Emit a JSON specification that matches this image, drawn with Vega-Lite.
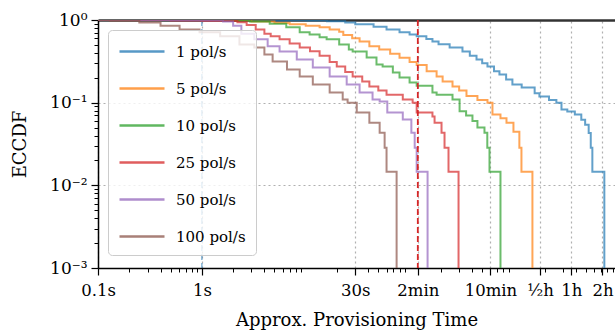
{
  "$schema": "https://vega.github.io/schema/vega-lite/v6.json",
  "width": 517,
  "height": 248,
  "autosize": {"type": "none"},
  "padding": {"left": 98, "top": 20, "right": 0, "bottom": 68},
  "config": {
    "font": "DejaVu Serif",
    "view": {"stroke": null},
    "axis": {"labelFont": "DejaVu Serif", "titleFont": "DejaVu Serif", "labelColor": "#000", "titleColor": "#000", "titleFontWeight": "normal"},
    "legend": {"labelFont": "DejaVu Serif", "labelColor": "#000"}
  },
  "datasets": {
    "curves": [
      {"t": 0.1, "v": 1, "rate": "1 pol/s"}, {"t": 5, "v": 0.995, "rate": "1 pol/s"}, {"t": 10, "v": 0.985, "rate": "1 pol/s"}, {"t": 16, "v": 0.964, "rate": "1 pol/s"}, {"t": 24, "v": 0.93, "rate": "1 pol/s"}, {"t": 30, "v": 0.89, "rate": "1 pol/s"}, {"t": 45, "v": 0.83, "rate": "1 pol/s"}, {"t": 60, "v": 0.77, "rate": "1 pol/s"}, {"t": 80, "v": 0.71, "rate": "1 pol/s"}, {"t": 100, "v": 0.67, "rate": "1 pol/s"}, {"t": 117, "v": 0.634, "rate": "1 pol/s"}, {"t": 145, "v": 0.59, "rate": "1 pol/s"}, {"t": 166, "v": 0.55, "rate": "1 pol/s"}, {"t": 190, "v": 0.51, "rate": "1 pol/s"}, {"t": 243, "v": 0.466, "rate": "1 pol/s"}, {"t": 323, "v": 0.416, "rate": "1 pol/s"}, {"t": 380, "v": 0.37, "rate": "1 pol/s"}, {"t": 441, "v": 0.333, "rate": "1 pol/s"}, {"t": 500, "v": 0.3, "rate": "1 pol/s"}, {"t": 562, "v": 0.273, "rate": "1 pol/s"}, {"t": 650, "v": 0.24, "rate": "1 pol/s"}, {"t": 733, "v": 0.219, "rate": "1 pol/s"}, {"t": 850, "v": 0.19, "rate": "1 pol/s"}, {"t": 977, "v": 0.166, "rate": "1 pol/s"}, {"t": 1200, "v": 0.153, "rate": "1 pol/s"}, {"t": 1600, "v": 0.13, "rate": "1 pol/s"}, {"t": 1778, "v": 0.119, "rate": "1 pol/s"}, {"t": 2200, "v": 0.108, "rate": "1 pol/s"}, {"t": 2590, "v": 0.1, "rate": "1 pol/s"}, {"t": 2900, "v": 0.0825, "rate": "1 pol/s"}, {"t": 3300, "v": 0.078, "rate": "1 pol/s"}, {"t": 3900, "v": 0.0717, "rate": "1 pol/s"}, {"t": 4500, "v": 0.062, "rate": "1 pol/s"}, {"t": 4900, "v": 0.054, "rate": "1 pol/s"}, {"t": 5300, "v": 0.043, "rate": "1 pol/s"}, {"t": 5550, "v": 0.0285, "rate": "1 pol/s"}, {"t": 5750, "v": 0.0146, "rate": "1 pol/s"}, {"t": 7500, "v": 0.0005, "rate": "1 pol/s"},

      {"t": 0.1, "v": 1, "rate": "5 pol/s"}, {"t": 1, "v": 0.99, "rate": "5 pol/s"}, {"t": 3, "v": 0.96, "rate": "5 pol/s"}, {"t": 5, "v": 0.92, "rate": "5 pol/s"}, {"t": 7, "v": 0.887, "rate": "5 pol/s"}, {"t": 10, "v": 0.85, "rate": "5 pol/s"}, {"t": 13.6, "v": 0.815, "rate": "5 pol/s"}, {"t": 17, "v": 0.77, "rate": "5 pol/s"}, {"t": 21, "v": 0.72, "rate": "5 pol/s"}, {"t": 23, "v": 0.66, "rate": "5 pol/s"}, {"t": 28, "v": 0.6, "rate": "5 pol/s"}, {"t": 33, "v": 0.55, "rate": "5 pol/s"}, {"t": 41, "v": 0.48, "rate": "5 pol/s"}, {"t": 51, "v": 0.44, "rate": "5 pol/s"}, {"t": 65, "v": 0.39, "rate": "5 pol/s"}, {"t": 80, "v": 0.35, "rate": "5 pol/s"}, {"t": 100, "v": 0.31, "rate": "5 pol/s"}, {"t": 117, "v": 0.285, "rate": "5 pol/s"}, {"t": 146, "v": 0.24, "rate": "5 pol/s"}, {"t": 182, "v": 0.207, "rate": "5 pol/s"}, {"t": 208, "v": 0.18, "rate": "5 pol/s"}, {"t": 259, "v": 0.157, "rate": "5 pol/s"}, {"t": 300, "v": 0.14, "rate": "5 pol/s"}, {"t": 353, "v": 0.12, "rate": "5 pol/s"}, {"t": 450, "v": 0.108, "rate": "5 pol/s"}, {"t": 562, "v": 0.1, "rate": "5 pol/s"}, {"t": 628, "v": 0.0717, "rate": "5 pol/s"}, {"t": 750, "v": 0.065, "rate": "5 pol/s"}, {"t": 857, "v": 0.0573, "rate": "5 pol/s"}, {"t": 1000, "v": 0.0445, "rate": "5 pol/s"}, {"t": 1140, "v": 0.0285, "rate": "5 pol/s"}, {"t": 1194, "v": 0.0146, "rate": "5 pol/s"}, {"t": 1523, "v": 0.0005, "rate": "5 pol/s"},

      {"t": 0.1, "v": 1, "rate": "10 pol/s"}, {"t": 1, "v": 0.985, "rate": "10 pol/s"}, {"t": 2.9, "v": 0.96, "rate": "10 pol/s"}, {"t": 4.5, "v": 0.9, "rate": "10 pol/s"}, {"t": 6.5, "v": 0.815, "rate": "10 pol/s"}, {"t": 8.75, "v": 0.709, "rate": "10 pol/s"}, {"t": 10.9, "v": 0.67, "rate": "10 pol/s"}, {"t": 13.6, "v": 0.617, "rate": "10 pol/s"}, {"t": 15.9, "v": 0.583, "rate": "10 pol/s"}, {"t": 21, "v": 0.507, "rate": "10 pol/s"}, {"t": 26, "v": 0.441, "rate": "10 pol/s"}, {"t": 28.3, "v": 0.416, "rate": "10 pol/s"}, {"t": 38.6, "v": 0.353, "rate": "10 pol/s"}, {"t": 48, "v": 0.29, "rate": "10 pol/s"}, {"t": 55, "v": 0.273, "rate": "10 pol/s"}, {"t": 69, "v": 0.232, "rate": "10 pol/s"}, {"t": 80, "v": 0.201, "rate": "10 pol/s"}, {"t": 100, "v": 0.175, "rate": "10 pol/s"}, {"t": 117, "v": 0.16, "rate": "10 pol/s"}, {"t": 166, "v": 0.133, "rate": "10 pol/s"}, {"t": 182, "v": 0.125, "rate": "10 pol/s"}, {"t": 259, "v": 0.109, "rate": "10 pol/s"}, {"t": 303, "v": 0.079, "rate": "10 pol/s"}, {"t": 350, "v": 0.07, "rate": "10 pol/s"}, {"t": 403, "v": 0.06, "rate": "10 pol/s"}, {"t": 450, "v": 0.05, "rate": "10 pol/s"}, {"t": 526, "v": 0.0434, "rate": "10 pol/s"}, {"t": 560, "v": 0.0285, "rate": "10 pol/s"}, {"t": 588, "v": 0.0146, "rate": "10 pol/s"}, {"t": 750, "v": 0.0005, "rate": "10 pol/s"},

      {"t": 0.1, "v": 1, "rate": "25 pol/s"}, {"t": 0.5, "v": 0.985, "rate": "25 pol/s"}, {"t": 1, "v": 0.97, "rate": "25 pol/s"}, {"t": 2.2, "v": 0.94, "rate": "25 pol/s"}, {"t": 2.7, "v": 0.87, "rate": "25 pol/s"}, {"t": 3.3, "v": 0.77, "rate": "25 pol/s"}, {"t": 4, "v": 0.68, "rate": "25 pol/s"}, {"t": 4.6, "v": 0.634, "rate": "25 pol/s"}, {"t": 5.6, "v": 0.583, "rate": "25 pol/s"}, {"t": 7, "v": 0.52, "rate": "25 pol/s"}, {"t": 8.75, "v": 0.466, "rate": "25 pol/s"}, {"t": 11, "v": 0.42, "rate": "25 pol/s"}, {"t": 13.6, "v": 0.37, "rate": "25 pol/s"}, {"t": 17, "v": 0.31, "rate": "25 pol/s"}, {"t": 19.9, "v": 0.273, "rate": "25 pol/s"}, {"t": 24, "v": 0.235, "rate": "25 pol/s"}, {"t": 28.3, "v": 0.207, "rate": "25 pol/s"}, {"t": 35, "v": 0.18, "rate": "25 pol/s"}, {"t": 41, "v": 0.157, "rate": "25 pol/s"}, {"t": 50, "v": 0.14, "rate": "25 pol/s"}, {"t": 60, "v": 0.125, "rate": "25 pol/s"}, {"t": 86, "v": 0.109, "rate": "25 pol/s"}, {"t": 107, "v": 0.1, "rate": "25 pol/s"}, {"t": 117, "v": 0.076, "rate": "25 pol/s"}, {"t": 166, "v": 0.068, "rate": "25 pol/s"}, {"t": 174, "v": 0.0573, "rate": "25 pol/s"}, {"t": 203, "v": 0.0434, "rate": "25 pol/s"}, {"t": 217, "v": 0.0285, "rate": "25 pol/s"}, {"t": 237, "v": 0.0146, "rate": "25 pol/s"}, {"t": 296, "v": 0.0005, "rate": "25 pol/s"},

      {"t": 0.1, "v": 1, "rate": "50 pol/s"}, {"t": 0.5, "v": 0.99, "rate": "50 pol/s"}, {"t": 1, "v": 0.985, "rate": "50 pol/s"}, {"t": 1.6, "v": 0.96, "rate": "50 pol/s"}, {"t": 2, "v": 0.85, "rate": "50 pol/s"}, {"t": 2.4, "v": 0.68, "rate": "50 pol/s"}, {"t": 3.2, "v": 0.583, "rate": "50 pol/s"}, {"t": 4.3, "v": 0.48, "rate": "50 pol/s"}, {"t": 5.6, "v": 0.416, "rate": "50 pol/s"}, {"t": 8.2, "v": 0.332, "rate": "50 pol/s"}, {"t": 11.7, "v": 0.267, "rate": "50 pol/s"}, {"t": 17, "v": 0.207, "rate": "50 pol/s"}, {"t": 24.8, "v": 0.166, "rate": "50 pol/s"}, {"t": 33, "v": 0.133, "rate": "50 pol/s"}, {"t": 44, "v": 0.109, "rate": "50 pol/s"}, {"t": 51.5, "v": 0.103, "rate": "50 pol/s"}, {"t": 61, "v": 0.076, "rate": "50 pol/s"}, {"t": 86, "v": 0.0625, "rate": "50 pol/s"}, {"t": 104, "v": 0.0434, "rate": "50 pol/s"}, {"t": 112, "v": 0.0285, "rate": "50 pol/s"}, {"t": 117, "v": 0.0146, "rate": "50 pol/s"}, {"t": 149, "v": 0.0005, "rate": "50 pol/s"},

      {"t": 0.1, "v": 1, "rate": "100 pol/s"}, {"t": 0.13, "v": 0.98, "rate": "100 pol/s"}, {"t": 0.25, "v": 0.93, "rate": "100 pol/s"}, {"t": 0.4, "v": 0.85, "rate": "100 pol/s"}, {"t": 0.61, "v": 0.77, "rate": "100 pol/s"}, {"t": 0.95, "v": 0.71, "rate": "100 pol/s"}, {"t": 1.5, "v": 0.634, "rate": "100 pol/s"}, {"t": 2.3, "v": 0.507, "rate": "100 pol/s"}, {"t": 3.2, "v": 0.465, "rate": "100 pol/s"}, {"t": 4, "v": 0.383, "rate": "100 pol/s"}, {"t": 4.8, "v": 0.315, "rate": "100 pol/s"}, {"t": 6.6, "v": 0.252, "rate": "100 pol/s"}, {"t": 8.75, "v": 0.207, "rate": "100 pol/s"}, {"t": 11.7, "v": 0.166, "rate": "100 pol/s"}, {"t": 17, "v": 0.133, "rate": "100 pol/s"}, {"t": 22.7, "v": 0.109, "rate": "100 pol/s"}, {"t": 25.3, "v": 0.1, "rate": "100 pol/s"}, {"t": 31, "v": 0.076, "rate": "100 pol/s"}, {"t": 41, "v": 0.0573, "rate": "100 pol/s"}, {"t": 51.5, "v": 0.0434, "rate": "100 pol/s"}, {"t": 57.5, "v": 0.0285, "rate": "100 pol/s"}, {"t": 60, "v": 0.0146, "rate": "100 pol/s"}, {"t": 75, "v": 0.0005, "rate": "100 pol/s"}
    ],
    "marks": [
      {"t": 1, "kind": "ref1s"},
      {"t": 120, "kind": "ref2min"}
    ]
  },
  "resolve": {"axis": {"x": "independent", "y": "independent"}},
  "layer": [
    {
      "data": {"name": "marks"},
      "transform": [{"filter": "datum.kind == 'ref1s'"}],
      "mark": {"type": "rule", "color": "#1f77b4", "opacity": 0.55, "strokeWidth": 1.5, "strokeDash": [6, 3]},
      "encoding": {
        "x": {"field": "t", "type": "quantitative", "scale": {"type": "log", "domain": [0.1, 9500], "nice": false},
          "axis": {"orient": "bottom", "values": [0.1, 1, 30, 120, 600, 1800, 3600, 7200],
            "labelExpr": "datum.value == 0.1 ? '0.1s' : datum.value == 1 ? '1s' : datum.value == 30 ? '30s' : datum.value == 120 ? '2min' : datum.value == 600 ? '10min' : datum.value == 1800 ? '½h' : datum.value == 3600 ? '1h' : '2h'",
            "title": "Approx. Provisioning Time", "titleFontSize": 18, "titlePadding": 13,
            "labelFontSize": 16.5, "labelPadding": 7, "labelOverlap": false, "labelFlush": false,
            "tickSize": 7, "tickWidth": 1.2, "tickColor": "#000", "domainColor": "#000", "domainWidth": 1.5,
            "grid": true, "gridColor": "#b0b0b0", "gridDash": [2, 3], "gridWidth": 1.2}}
      }
    },
    {
      "data": {"name": "curves"},
      "mark": {"type": "line", "interpolate": "step-after", "strokeWidth": 2, "opacity": 0.7, "clip": true},
      "encoding": {
        "x": {"field": "t", "type": "quantitative", "scale": {"type": "log", "domain": [0.1, 9500], "nice": false}, "axis": null},
        "y": {"field": "v", "type": "quantitative", "scale": {"type": "log", "domain": [0.001, 1], "nice": false},
          "axis": {"orient": "left", "values": [0.001, 0.01, 0.1, 1],
            "labelExpr": "datum.value == 1 ? '10⁰' : datum.value == 0.1 ? '10⁻¹' : datum.value == 0.01 ? '10⁻²' : '10⁻³'",
            "title": "ECCDF", "titleFontSize": 18, "titlePadding": 20,
            "labelFontSize": 17, "labelPadding": 4, "labelOverlap": false, "labelFlush": false,
            "tickSize": 7, "tickWidth": 1.2, "tickColor": "#000", "domainColor": "#000", "domainWidth": 1.5,
            "grid": true, "gridColor": "#b0b0b0", "gridDash": [2, 3], "gridWidth": 1.2}},
        "color": {"field": "rate", "type": "nominal",
          "scale": {"domain": ["1 pol/s", "5 pol/s", "10 pol/s", "25 pol/s", "50 pol/s", "100 pol/s"],
            "range": ["#1f77b4", "#ff7f0e", "#2ca02c", "#d62728", "#9467bd", "#8c564b"]},
          "legend": {"orient": "none", "legendX": 10, "legendY": 10, "title": null,
            "symbolType": "M-1,0H3.5", "symbolSize": 400, "symbolStrokeWidth": 2.5, "symbolOpacity": 0.75,
            "labelFontSize": 15, "labelFont": "DejaVu Serif", "labelColor": "#000", "labelOffset": 35,
            "rowPadding": 17, "padding": 10, "fillColor": "rgba(255,255,255,0.8)", "strokeColor": "#cccccc", "cornerRadius": 4}}
      }
    },
    {
      "data": {"name": "marks"},
      "transform": [{"filter": "datum.kind == 'ref2min'"}],
      "mark": {"type": "rule", "color": "#d62728", "strokeWidth": 1.8, "strokeDash": [6, 3]},
      "encoding": {
        "x": {"field": "t", "type": "quantitative", "scale": {"type": "log", "domain": [0.1, 9500], "nice": false},
          "axis": {"orient": "bottom", "values": [0.2, 0.3, 0.4, 0.5, 0.6, 0.7, 0.8, 0.9, 2, 3, 4, 5, 6, 7, 8, 9, 20, 30, 40, 50, 60, 70, 80, 90, 200, 300, 400, 500, 600, 700, 800, 900, 2000, 3000, 4000, 5000, 6000, 7000, 8000, 9000],
            "labels": false, "title": null, "grid": false, "domain": false, "tickSize": 4, "tickWidth": 1, "tickColor": "#000"}}
      }
    },
    {
      "data": {"name": "curves"},
      "mark": {"type": "point", "opacity": 0},
      "encoding": {
        "x": {"field": "t", "type": "quantitative", "scale": {"type": "log", "domain": [0.1, 9500], "nice": false},
          "axis": {"orient": "top", "labels": false, "ticks": false, "grid": false, "title": null, "domainColor": "#333", "domainWidth": 2.5}},
        "y": {"field": "v", "type": "quantitative", "scale": {"type": "log", "domain": [0.001, 1], "nice": false},
          "axis": {"orient": "left", "values": [0.002, 0.003, 0.004, 0.005, 0.006, 0.007, 0.008, 0.009, 0.02, 0.03, 0.04, 0.05, 0.06, 0.07, 0.08, 0.09, 0.2, 0.3, 0.4, 0.5, 0.6, 0.7, 0.8, 0.9],
            "labels": false, "title": null, "grid": false, "domain": false, "tickSize": 4, "tickWidth": 1, "tickColor": "#000"}}
      }
    }
  ]
}
